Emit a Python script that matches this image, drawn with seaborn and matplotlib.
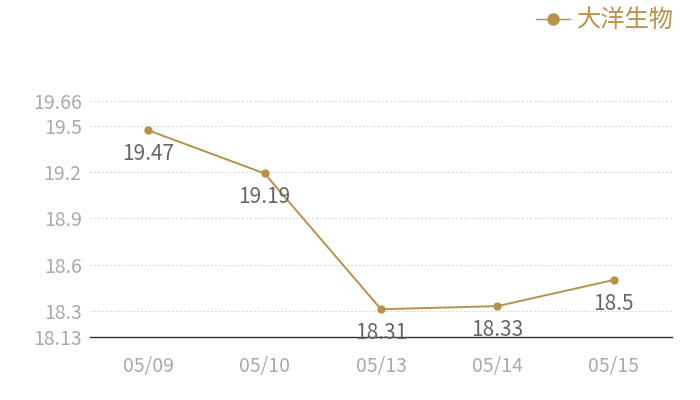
import pandas as pd
import matplotlib
matplotlib.use("Agg")
import matplotlib.pyplot as plt
import seaborn as sns

# chart data
dates = ["05/09", "05/10", "05/13", "05/14", "05/15"]
prices = [19.47, 19.19, 18.31, 18.33, 18.5]
series_name = "大洋生物"
y_ticks = [18.13, 18.3, 18.6, 18.9, 19.2, 19.5, 19.66]

gold = "#b8924a"

sns.set_style("white")
plt.rcParams["font.family"] = ["Noto Sans CJK SC", "DejaVu Sans"]

df = pd.DataFrame({"date": dates, "price": prices})

fig = plt.figure(figsize=(7, 4), dpi=100)
ax = fig.add_axes([90 / 700, 1 - 337 / 400, 582 / 700, 236 / 400])

sns.lineplot(data=df, x="date", y="price", ax=ax, color=gold, linewidth=1.4,
             marker="o", markersize=6, markeredgewidth=0, label=series_name,
             sort=False)

# value labels under each point
for i, v in enumerate(prices):
    ax.annotate(f"{v:g}", (i, v), xytext=(0, -17), textcoords="offset points",
                ha="center", va="center", fontsize=15, color="#666666")

ax.set_xlim(-0.5, len(dates) - 0.5)
ax.set_ylim(y_ticks[0], y_ticks[-1])
ax.set_yticks(y_ticks)
ax.set_yticklabels([f"{t:g}" for t in y_ticks])
ax.grid(axis="y", linestyle=(0, (2, 2)), color="#d6d6d6", linewidth=0.7)
ax.set_axisbelow(True)

for s in ["top", "right", "left"]:
    ax.spines[s].set_visible(False)
ax.spines["bottom"].set_color("#333333")
ax.spines["bottom"].set_linewidth(1)

ax.tick_params(axis="both", length=0, labelsize=14, labelcolor="#aaaaaa")
ax.tick_params(axis="x", pad=14)
ax.tick_params(axis="y", pad=6)
ax.set_xlabel("")
ax.set_ylabel("")

leg = ax.legend(loc="upper right", bbox_to_anchor=(686 / 700, 1.012), bbox_transform=fig.transFigure,
                frameon=False, fontsize=17.5, handlelength=1.4, handletextpad=0.3,
                borderaxespad=0.1)
for t in leg.get_texts():
    t.set_color(gold)
for h in leg.legend_handles:
    h.set_markersize(9)
    h.set_linewidth(1)

fig.savefig("out.png", dpi=100)
